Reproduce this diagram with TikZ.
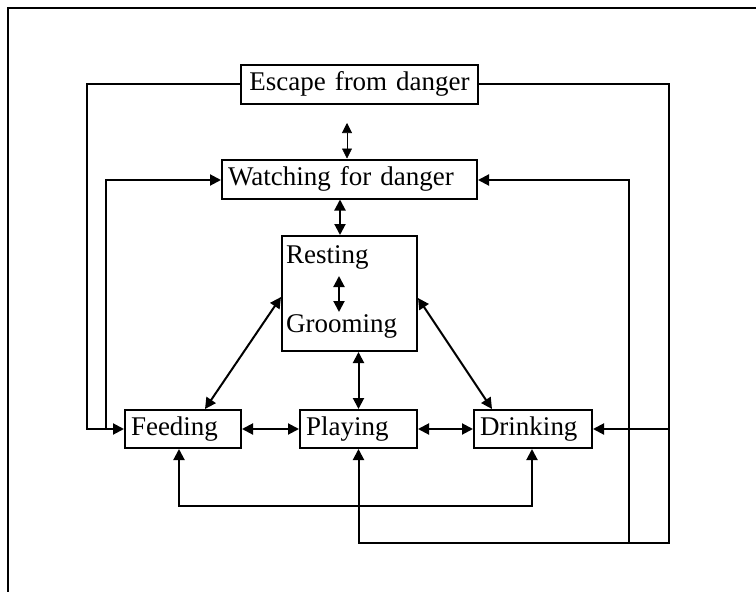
\documentclass[tikz,border=0pt]{standalone}
\usepackage{fontspec}
\setmainfont{Liberation Serif}
\usetikzlibrary{arrows.meta}
\begin{document}
\begin{tikzpicture}[x=1pt,y=-1pt,
 txt/.style={font=\fontsize{27}{30}\selectfont},
 box/.style={draw, line width=2pt, inner xsep=6pt, inner ysep=0pt, align=left, txt},
 con/.style={line width=2pt},
 tip/.style={-{Triangle[length=11pt,width=11pt]}},
 dtip/.style={{Triangle[length=11pt,width=11pt]}-{Triangle[length=11pt,width=11pt]}},
 thintip/.style={line width=0.6pt,{Triangle[length=10pt,width=10pt]}-{Triangle[length=10pt,width=10pt]}}]
\useasboundingbox (0,0) rectangle (756,592);
\draw[line width=2pt] (8,592) -- (8,8) -- (756,8);
% boxes
\node[box, minimum width=237pt, minimum height=39pt, text width=225pt, align=center] (esc) at (359.5,84) {Escape from danger};
\node[box, minimum width=255pt, minimum height=39pt, text width=243pt] (watch) at (349.5,179) {Watching for danger};
\node[box, minimum width=116pt, minimum height=38pt, text width=104pt] (feed) at (183,429) {Feeding};
\node[box, minimum width=117pt, minimum height=38pt, text width=105pt] (play) at (358.5,429) {Playing};
\node[box, minimum width=118pt, minimum height=38pt, text width=106pt] (drink) at (533,429) {Drinking};
\node[draw, line width=2pt, minimum width=135pt, minimum height=115pt, inner sep=0pt] (rest) at (349.5,293.5) {};
\node[txt, anchor=base west, inner sep=0pt] (resting) at (286,263) {Resting};
\node[txt, anchor=base west, inner sep=0pt] (grooming) at (286,332) {Grooming};
% coordinates
\coordinate (ga) at (339,276);
\coordinate (gb) at (339,312);
\coordinate (ax) at (340,0);
\coordinate (et) at (347,123);
\coordinate (lb1) at (179,506);
\coordinate (lb2) at (532,506);
\coordinate (L1) at (87,84);
\coordinate (L2) at (106,180);
\coordinate (R1) at (669,84);
\coordinate (R2) at (629,180);
\coordinate (B) at (669,543);
% connectors
\draw[con,dtip] (ga) -- (gb);
\draw[thintip] (et) -- (watch.north -| et);
\draw[con,dtip] (watch.south -| ax) -- (rest.north -| ax);
\draw[con,dtip] (rest.south -| play.north) -- (play.north);
\draw[con,dtip] ([xshift=22pt]feed.north) -- ([yshift=-3.5pt]rest.west);
\draw[con,dtip] ([xshift=-41pt]drink.north) -- ([yshift=-4.5pt]rest.east);
\draw[con,dtip] (feed.east) -- (play.west);
\draw[con,dtip] (play.east) -- (drink.west);
\draw[con,dtip] (feed.south -| lb1) -- (lb1) -- (lb2) -- (drink.south -| lb2);
\draw[con,tip] (esc.west) -- (esc.west -| L1) -- (feed.west -| L1) -- (feed.west);
\draw[con,tip] (feed.west -| L2) -- (L2) -- (L2 -| watch.west);
\draw[con,tip] (esc.east) -- (R1) -- (B) -- (B -| play.south) -- (play.south);
\draw[con,tip] (B -| R2) -- (R2) -- (R2 -| watch.east);
\draw[con,tip] (drink.east -| R1) -- (drink.east);
\end{tikzpicture}
\end{document}
